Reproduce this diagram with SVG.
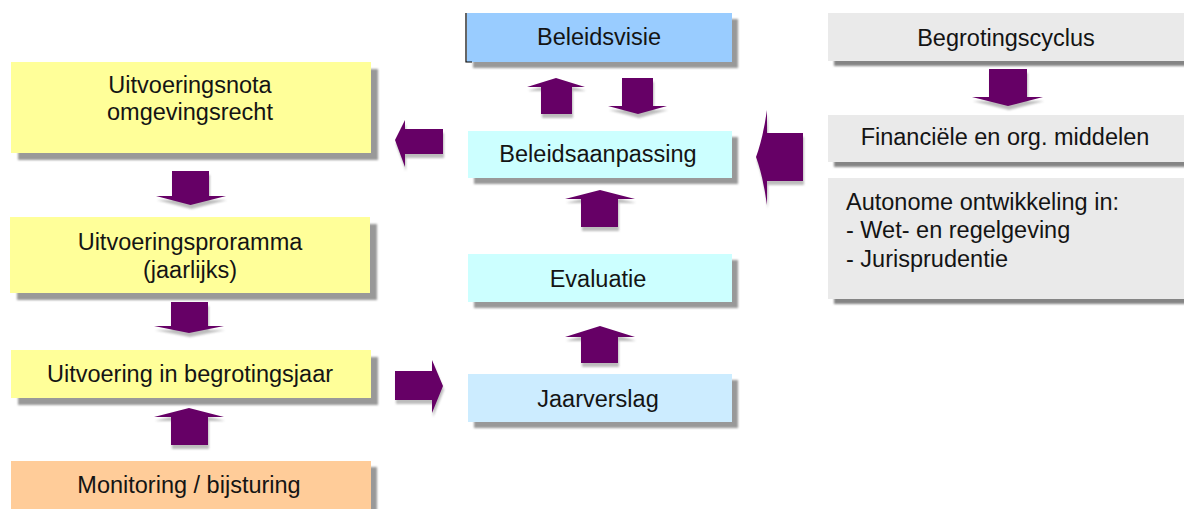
<svg xmlns="http://www.w3.org/2000/svg" width="1184" height="509" viewBox="0 0 1184 509">
<defs>
<filter id="bs" x="-5%" y="-20%" width="110%" height="140%"><feGaussianBlur stdDeviation="1"/></filter>
<filter id="as" x="-20%" y="-20%" width="140%" height="140%"><feGaussianBlur stdDeviation="1.2"/></filter>
</defs>
<style>
.t{font-family:"Liberation Sans",Arial,sans-serif;font-size:23.5px;fill:#141414;text-anchor:middle}
.tl{font-family:"Liberation Sans",Arial,sans-serif;font-size:23.5px;fill:#141414}
.sh{fill:#999999;filter:url(#bs)}
.shg{fill:#858585;filter:url(#bs)}
.y{fill:#FFFF99}
.o{fill:#FFCC99}
.b{fill:#99CCFF}
.c{fill:#CCFFFF}
.lb{fill:#CCECFF}
.g{fill:#EAEAEA}
.ar{fill:#660066}
.as{fill:#A0A0A0;opacity:0.7;filter:url(#as)}
</style>
<rect width="1184" height="509" fill="#ffffff"/>

<g id="connectors">
  <g id="a-nota-programma">
    <polygon class="as" transform="translate(1,4)" points="172,171 209,171 209,196 226,196 190.5,205 156,196 172,196"/>
    <polygon class="ar" points="172,171 209,171 209,196 226,196 190.5,205 156,196 172,196"/>
  </g>
  <g id="a-programma-uitvoering">
    <polygon class="as" transform="translate(1,4)" points="171,302 208,302 208,326 224,326 189,333 154,326 171,326"/>
    <polygon class="ar" points="171,302 208,302 208,326 224,326 189,333 154,326 171,326"/>
  </g>
  <g id="a-monitoring-uitvoering">
    <polygon class="as" transform="translate(1,4)" points="189,408 224,417 208,417 208,445 171,445 171,417 154,417"/>
    <polygon class="ar" points="189,408 224,417 208,417 208,445 171,445 171,417 154,417"/>
  </g>
  <g id="a-uitvoering-jaarverslag">
    <polygon class="as" transform="translate(1,4)" points="395,371 432,371 432,360 443,386 432,413 432,400 395,400"/>
    <polygon class="ar" points="395,371 432,371 432,360 443,386 432,413 432,400 395,400"/>
  </g>
  <g id="a-aanpassing-visie">
    <polygon class="as" transform="translate(1,4)" points="556,78 585,87 572,87 572,114 541,114 541,87 527,87"/>
    <polygon class="ar" points="556,78 585,87 572,87 572,114 541,114 541,87 527,87"/>
  </g>
  <g id="a-visie-aanpassing">
    <polygon class="as" transform="translate(1,4)" points="622,78 653,78 653,106 667,106 638,114 608,106 622,106"/>
    <polygon class="ar" points="622,78 653,78 653,106 667,106 638,114 608,106 622,106"/>
  </g>
  <g id="a-aanpassing-nota">
    <polygon class="as" transform="translate(1,4)" points="443,129 443,154 405,154 405,167 395,140 405,120 405,129"/>
    <polygon class="ar" points="443,129 443,154 405,154 405,167 395,140 405,120 405,129"/>
  </g>
  <g id="a-evaluatie-aanpassing">
    <polygon class="as" transform="translate(1,4)" points="600,190 635,199 618,199 618,227 581,227 581,199 565,199"/>
    <polygon class="ar" points="600,190 635,199 618,199 618,227 581,227 581,199 565,199"/>
  </g>
  <g id="a-jaarverslag-evaluatie">
    <polygon class="as" transform="translate(1,4)" points="600,326 635,337 618,337 618,363 581,363 581,337 565,337"/>
    <polygon class="ar" points="600,326 635,337 618,337 618,363 581,363 581,337 565,337"/>
  </g>
  <g id="a-cyclus-middelen">
    <polygon class="as" transform="translate(1,4)" points="989,69 1027,69 1027,97 1043,97 1008,106 972,97 989,97"/>
    <polygon class="ar" points="989,69 1027,69 1027,97 1043,97 1008,106 972,97 989,97"/>
  </g>
  <g id="a-rechts-aanpassing">
    <path class="as" transform="translate(1,4)" d="M803,133 L803,181 L767,181 L767,205 Q763,176 756,157 Q763,138 767,110 L767,133 Z"/>
    <path class="ar" d="M803,133 L803,181 L767,181 L767,205 Q763,176 756,157 Q763,138 767,110 L767,133 Z"/>
  </g>
</g>

<g id="n-nota">
  <rect class="sh" x="18" y="69" width="360" height="91"/>
  <rect class="y" x="11" y="62" width="360" height="91"/>
  <text class="t" x="190" y="93">Uitvoeringsnota</text>
  <text class="t" x="190" y="120">omgevingsrecht</text>
</g>
<g id="n-programma">
  <rect class="sh" x="17" y="224" width="360" height="76"/>
  <rect class="y" x="10" y="217" width="360" height="76"/>
  <text class="t" x="190" y="250">Uitvoeringsproramma</text>
  <text class="t" x="190" y="278">(jaarlijks)</text>
</g>
<g id="n-uitvoering">
  <rect class="sh" x="18" y="357" width="360" height="48"/>
  <rect class="y" x="11" y="350" width="360" height="48"/>
  <text class="t" x="190" y="382">Uitvoering in begrotingsjaar</text>
</g>
<g id="n-monitoring">
  <rect class="sh" x="18" y="467" width="359" height="50"/>
  <rect class="o" x="11" y="461" width="360" height="50"/>
  <text class="t" x="189" y="493">Monitoring / bijsturing</text>
</g>

<g id="n-visie">
  <rect class="sh" x="473" y="19" width="265" height="49"/>
  <rect class="b" x="467" y="13" width="265" height="49"/>
  <path d="M466,13 V62 H472" fill="none" stroke="#000" stroke-width="1.2"/>
  <text class="t" x="599" y="45">Beleidsvisie</text>
</g>
<g id="n-aanpassing">
  <rect class="sh" x="474" y="137" width="264" height="47"/>
  <rect class="c" x="468" y="131" width="264" height="47"/>
  <text class="t" x="598" y="162">Beleidsaanpassing</text>
</g>
<g id="n-evaluatie">
  <rect class="sh" x="474" y="260" width="264" height="48"/>
  <rect class="c" x="468" y="254" width="264" height="48"/>
  <text class="t" x="598" y="287">Evaluatie</text>
</g>
<g id="n-jaarverslag">
  <rect class="sh" x="474" y="380" width="264" height="48"/>
  <rect class="lb" x="468" y="374" width="264" height="48"/>
  <text class="t" x="598" y="407">Jaarverslag</text>
</g>

<g id="n-cyclus">
  <rect class="shg" x="834" y="19" width="360" height="47"/>
  <rect class="g" x="828" y="13" width="360" height="48"/>
  <text class="t" x="1006" y="46">Begrotingscyclus</text>
</g>
<g id="n-middelen">
  <rect class="shg" x="834" y="121" width="360" height="46"/>
  <rect class="g" x="828" y="115" width="360" height="47"/>
  <text class="t" x="1005" y="145">Financiële en org. middelen</text>
</g>
<g id="n-autonoom">
  <rect class="shg" x="834" y="184" width="360" height="120"/>
  <rect class="g" x="828" y="178" width="360" height="121"/>
  <text class="tl" x="846" y="210">Autonome ontwikkeling in:</text>
  <text class="tl" x="846" y="238">- Wet- en regelgeving</text>
  <text class="tl" x="846" y="267">- Jurisprudentie</text>
</g>
</svg>
